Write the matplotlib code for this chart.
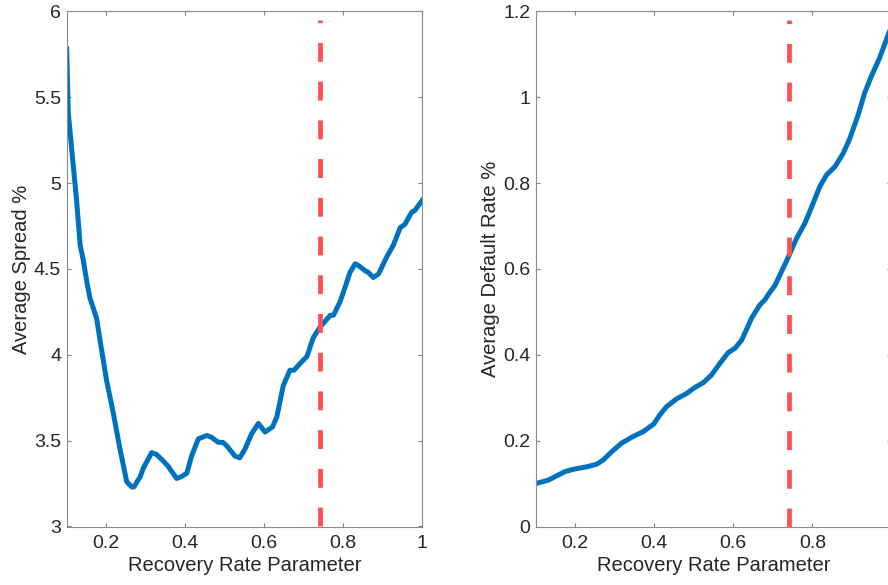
import numpy as np
import matplotlib
matplotlib.use('Agg')
import matplotlib.pyplot as plt
from matplotlib.ticker import FuncFormatter

# Sensibilité au paramètre de taux de recouvrement
seuil = 0.74  # valeur retenue (ligne rouge)

r_spread = [0.100, 0.104, 0.113, 0.125, 0.134, 0.142, 0.152, 0.159, 0.176, 0.184,
            0.201, 0.218, 0.235, 0.252, 0.265, 0.270, 0.286, 0.294, 0.315, 0.327,
            0.345, 0.357, 0.378, 0.390, 0.404, 0.416, 0.433, 0.454, 0.466, 0.484,
            0.495, 0.505, 0.526, 0.538, 0.551, 0.568, 0.585, 0.602, 0.621, 0.632,
            0.648, 0.665, 0.675, 0.691, 0.708, 0.724, 0.741, 0.767, 0.775, 0.792,
            0.804, 0.817, 0.830, 0.838, 0.855, 0.863, 0.876, 0.889, 0.910, 0.927,
            0.944, 0.956, 0.973, 0.981, 1.000]
spread = [5.78, 5.41, 5.19, 4.90, 4.64, 4.55, 4.41, 4.33, 4.21, 4.09,
          3.85, 3.66, 3.45, 3.26, 3.23, 3.23, 3.29, 3.34, 3.43, 3.42,
          3.38, 3.35, 3.28, 3.29, 3.31, 3.41, 3.51, 3.53, 3.52, 3.49,
          3.49, 3.47, 3.41, 3.40, 3.45, 3.54, 3.60, 3.55, 3.58, 3.64,
          3.82, 3.91, 3.91, 3.95, 3.99, 4.10, 4.16, 4.23, 4.23, 4.31,
          4.39, 4.48, 4.53, 4.52, 4.49, 4.48, 4.45, 4.47, 4.57, 4.64,
          4.74, 4.76, 4.83, 4.84, 4.90]

r_defaut = [0.100, 0.132, 0.153, 0.174, 0.199, 0.229, 0.254, 0.271, 0.292, 0.317,
            0.343, 0.372, 0.399, 0.414, 0.431, 0.456, 0.482, 0.503, 0.524, 0.545,
            0.566, 0.587, 0.604, 0.621, 0.633, 0.646, 0.667, 0.680, 0.692, 0.705,
            0.718, 0.734, 0.747, 0.760, 0.781, 0.802, 0.819, 0.836, 0.857, 0.878,
            0.895, 0.916, 0.932, 0.949, 0.970, 0.987, 1.000]
defaut = [0.100, 0.108, 0.118, 0.128, 0.134, 0.139, 0.145, 0.155, 0.174, 0.194,
          0.208, 0.221, 0.239, 0.260, 0.279, 0.297, 0.310, 0.324, 0.335, 0.353,
          0.380, 0.405, 0.415, 0.434, 0.458, 0.485, 0.516, 0.528, 0.545, 0.561,
          0.586, 0.617, 0.644, 0.671, 0.706, 0.753, 0.792, 0.819, 0.838, 0.869,
          0.904, 0.959, 1.009, 1.048, 1.091, 1.133, 1.165]

BLEU = '#0072BD'
ROUGE = '#ff4f4f'
TEXTE = '#262626'

plt.rcParams['font.family'] = ['Liberation Sans', 'DejaVu Sans']
plt.rcParams['font.size'] = 14

fig = plt.figure(figsize=(8.88, 5.85), dpi=100)
ax = fig.add_axes([0.0751, 0.1, 0.4005, 0.8807])
ax2 = fig.add_axes([0.6033, 0.1, 0.4005, 0.8807])

fmt = FuncFormatter(lambda v, p: f'{v:g}')

def habiller(a, ylim, yticks, xticks, ylabel):
    a.set_xlim(0.1, 1)
    a.set_ylim(*ylim)
    a.set_xticks(xticks)
    a.set_yticks(yticks)
    a.xaxis.set_major_formatter(fmt)
    a.yaxis.set_major_formatter(fmt)
    a.tick_params(direction='in', length=3, width=0.8, top=True, right=True,
                  colors='#808080', labelcolor=TEXTE, labelsize=14)
    a.tick_params(axis='x', pad=6)
    a.tick_params(axis='y', pad=4)
    for s in a.spines.values():
        s.set_color('#8c8c8c')
        s.set_linewidth(0.8)
    a.set_xlabel('Recovery Rate Parameter', color=TEXTE, fontsize=14.5, labelpad=3)
    a.set_ylabel(ylabel, color=TEXTE, fontsize=14.5, labelpad=2)

ax.plot(r_spread, spread, color=BLEU, lw=3.6, solid_joinstyle='round')
ax.plot([seuil, seuil], [3, 5.95], color=ROUGE, lw=3.4, dashes=(4, 4.2))
habiller(ax, (3, 6), [3, 3.5, 4, 4.5, 5, 5.5, 6], [0.2, 0.4, 0.6, 0.8, 1.0],
         'Average Spread %')

ax2.plot(r_defaut, defaut, color=BLEU, lw=3.6, solid_joinstyle='round')
ax2.plot([seuil, seuil], [0, 1.18], color=ROUGE, lw=3.4, dashes=(4, 4.2))
habiller(ax2, (0, 1.2), [0, 0.2, 0.4, 0.6, 0.8, 1.0, 1.2], [0.2, 0.4, 0.6, 0.8],
         'Average Default Rate %')

fig.savefig('out.png', dpi=100)
